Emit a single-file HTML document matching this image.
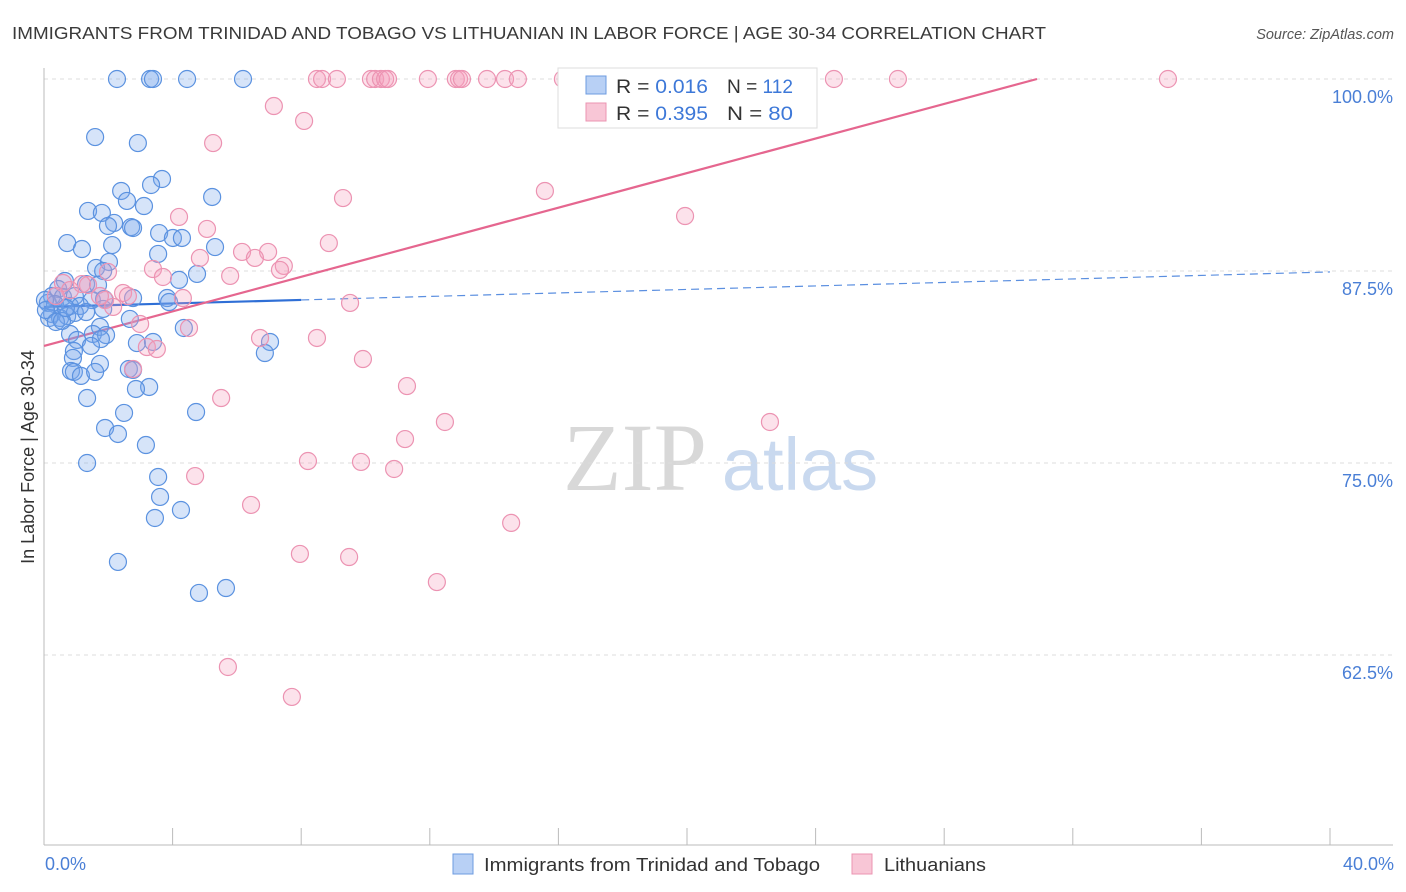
<!DOCTYPE html>
<html><head><meta charset="utf-8">
<style>
body{margin:0;background:#fff;font-family:"Liberation Sans",sans-serif;}
svg{display:block}
</style></head>
<body>
<svg id="chart" width="1406" height="892" viewBox="0 0 1406 892" xmlns="http://www.w3.org/2000/svg">
<text x="12" y="39" font-size="17.5" fill="#3a3a3a" textLength="1034" lengthAdjust="spacingAndGlyphs">IMMIGRANTS FROM TRINIDAD AND TOBAGO VS LITHUANIAN IN LABOR FORCE | AGE 30-34 CORRELATION CHART</text>
<text x="1394" y="39" font-size="14.5" fill="#555" text-anchor="end" font-style="italic">Source: ZipAtlas.com</text>
<g>
<text x="635" y="490" font-size="96" fill="#d8d8d8" text-anchor="middle" font-family="Liberation Serif,serif">ZIP</text>
<text x="800" y="490" font-size="74" fill="#c9d9ef" text-anchor="middle">atlas</text>
</g>
<g id="grid"></g>
<g id="axes"></g>
<g id="trends"></g>
<g id="points"></g>
<g>
<rect x="558" y="68" width="259" height="60" fill="#fff" stroke="#ddd"/>
<rect x="586" y="76" width="20" height="18" fill="#b8d0f5" stroke="#6d9be0"/>
<text x="616" y="93" font-size="19" fill="#333" textLength="92" lengthAdjust="spacingAndGlyphs">R = <tspan fill="#3d78d8">0.016</tspan></text>
<text x="727" y="93" font-size="19" fill="#333" textLength="66" lengthAdjust="spacingAndGlyphs">N = <tspan fill="#3d78d8">112</tspan></text>
<rect x="586" y="103" width="20" height="18" fill="#f8c6d6" stroke="#eb94b2"/>
<text x="616" y="120" font-size="19" fill="#333" textLength="92" lengthAdjust="spacingAndGlyphs">R = <tspan fill="#3d78d8">0.395</tspan></text>
<text x="727" y="120" font-size="19" fill="#333" textLength="66" lengthAdjust="spacingAndGlyphs">N = <tspan fill="#3d78d8">80</tspan></text>
</g>
<g>
<rect x="453" y="854" width="20" height="20" fill="#b8d0f5" stroke="#6d9be0"/>
<text x="484" y="871" font-size="18.5" fill="#333" textLength="336" lengthAdjust="spacingAndGlyphs">Immigrants from Trinidad and Tobago</text>
<rect x="852" y="854" width="20" height="20" fill="#f8c6d6" stroke="#eb94b2"/>
<text x="884" y="871" font-size="18.5" fill="#333" textLength="102" lengthAdjust="spacingAndGlyphs">Lithuanians</text>
</g>
<text transform="translate(34,457) rotate(-90)" font-size="18" fill="#333" text-anchor="middle">In Labor Force | Age 30-34</text>
<text x="45" y="870" font-size="18" fill="#4a7fd6">0.0%</text>
<text x="1394" y="870" font-size="18" fill="#4a7fd6" text-anchor="end">40.0%</text>
</svg>
<script>
const yTicks=[100,87.5,75,62.5];
const yTickLabels=["100.0%","87.5%","75.0%","62.5%"];
const xTicks=[0,4,8,12,16,20,24,28,32,36,40];
const blueX=[2.27,3.30,3.39,4.45,6.19,1.59,2.92,3.67,3.33,2.40,5.23,1.37,1.80,2.58,3.11,2.18,1.99,2.71,2.77,3.58,4.01,4.29,0.72,1.18,2.12,5.32,3.55,1.62,2.02,1.84,4.76,4.20,0.65,1.31,0.44,1.68,0.25,0.59,0.96,1.49,1.87,2.77,3.83,3.89,0.12,0.34,0.81,1.12,1.84,0.25,0.50,0.16,0.72,0.96,1.31,2.67,4.35,1.74,0.81,1.52,1.93,1.77,1.03,2.89,3.39,7.03,1.46,0.93,6.87,0.90,1.74,0.84,0.93,1.15,1.59,2.64,2.77,3.27,2.86,1.34,2.49,4.73,1.90,2.30,3.17,3.55,3.61,1.34,3.45,4.26,2.30,4.82,5.66,0.03,0.06,0.37,0.56,0.68];
const blueY=[100,100,100,100,100,96.22,95.83,93.49,93.10,92.71,92.32,91.41,91.28,92.06,91.73,90.63,90.43,90.36,90.30,89.97,89.65,89.65,89.32,88.93,89.19,89.06,88.61,87.70,88.09,87.50,87.31,86.92,86.85,86.65,86.33,86.59,85.87,85.81,85.87,85.61,85.68,85.74,85.74,85.48,85.42,85.35,85.22,85.22,85.03,84.70,84.44,84.44,84.57,84.77,84.83,84.38,83.79,83.86,83.40,83.40,83.33,83.07,83.01,82.81,82.88,82.88,82.62,82.29,82.16,81.84,81.45,80.99,80.93,80.67,80.93,81.12,81.06,79.95,79.82,79.23,78.26,78.32,77.28,76.89,76.17,74.09,72.79,75.00,71.42,71.94,68.56,66.54,66.86,85.61,84.96,84.18,84.25,85.09];
const pinkX=[8.49,8.65,9.11,10.17,10.30,10.48,10.61,10.70,11.94,12.81,12.91,13.00,13.78,14.34,14.74,16.14,16.27,16.58,21.56,21.99,23.67,24.57,26.56,34.96,7.15,8.09,5.26,9.30,15.58,19.94,4.20,5.07,8.86,6.16,6.97,6.56,4.85,7.46,7.34,3.39,5.79,1.99,3.70,0.59,0.81,1.37,2.46,4.32,1.90,0.37,2.15,9.52,2.99,4.51,6.72,8.49,3.20,3.51,9.92,2.77,11.29,5.51,12.47,22.58,11.23,8.21,9.86,10.89,4.70,6.44,14.53,7.96,9.49,12.22,5.72,7.71,1.18,1.74,2.61];
const pinkY=[100,100,100,100,100,100,100,100,100,100,100,100,100,100,100,100,100,100,100,100,100,100,100,100,98.24,97.27,95.83,92.25,92.71,91.08,91.02,90.24,89.32,88.74,88.74,88.35,88.35,87.83,87.57,87.63,87.18,87.44,87.11,86.72,86.26,86.59,86.07,85.74,85.61,85.87,85.16,85.42,84.05,83.79,83.14,83.14,82.55,82.42,81.77,81.12,80.01,79.23,77.67,77.67,76.56,75.13,75.07,74.61,74.15,72.27,71.10,69.08,68.88,67.25,61.72,59.77,86.65,85.87,85.87];
const blueTrend=[85.16,0.057];
const pinkTrend=[82.62,0.5627];
const NS="http://www.w3.org/2000/svg";
const sx=v=>44+v*32.15;
const sy=v=>79+(100-v)*15.36;
function mk(t,a,p){const e=document.createElementNS(NS,t);for(const k in a)e.setAttribute(k,a[k]);p.appendChild(e);return e;}
const grid=document.getElementById('grid');
yTicks.forEach((t,i)=>{
  const l=mk('line',{x1:44,x2:1393,y1:sy(t),y2:sy(t),stroke:'#dcdcdc','stroke-dasharray':'4,4'},grid);
  
  
  const tx=mk('text',{x:1393,y:sy(t)+24,'font-size':18,fill:'#4a7fd6','text-anchor':'end'},grid);
  tx.textContent=yTickLabels[i];
  
  
});
const axes=document.getElementById('axes');
mk('line',{x1:44,x2:44,y1:68,y2:845,stroke:'#bbb'},axes);
mk('line',{x1:44,x2:1393,y1:845,y2:845,stroke:'#bbb'},axes);
xTicks.forEach(t=>{
  const l=mk('line',{x1:sx(t),x2:sx(t),y1:828,y2:845,stroke:'#bbb'},axes);
  
  
});
const pts=document.getElementById('points');
function drawPts(X,Y,fill,stroke,name){
  X.forEach((x,i)=>{
    const c=mk('circle',{cx:sx(x),cy:sy(Y[i]),r:8.5,fill:fill,stroke:stroke,'stroke-width':1.2},pts);
    
    
  });
}
drawPts(blueX,blueY,'rgba(120,165,235,0.3)','#5b92e0','point-trinidad');
drawPts(pinkX,pinkY,'rgba(245,160,190,0.3)','#ec93b2','point-lithuanian');
const tr=document.getElementById('trends');
const b1=mk('line',{x1:sx(0),y1:sy(blueTrend[0]),x2:sx(8),y2:sy(blueTrend[0]+8*blueTrend[1]),stroke:'#2f6fd6','stroke-width':2.2},tr);


const b2=mk('line',{x1:sx(8),y1:sy(blueTrend[0]+8*blueTrend[1]),x2:sx(40),y2:sy(blueTrend[0]+40*blueTrend[1]),stroke:'#5b8fe0','stroke-width':1.2,'stroke-dasharray':'8,5'},tr);


const pEnd=(100-pinkTrend[0])/pinkTrend[1];
const p1=mk('line',{x1:sx(0),y1:sy(pinkTrend[0]),x2:sx(pEnd),y2:sy(100),stroke:'#e5668f','stroke-width':2.2},tr);


</script>
</body></html>
